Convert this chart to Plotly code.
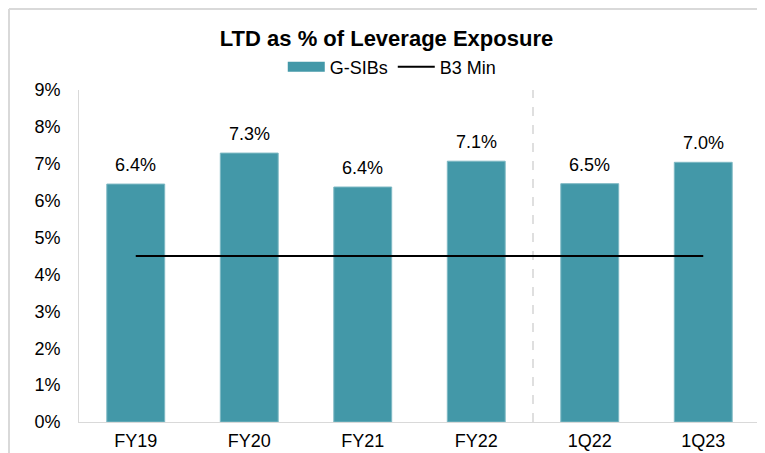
import plotly.graph_objects as go

categories = ["FY19", "FY20", "FY21", "FY22", "1Q22", "1Q23"]
gsib_values = [6.45, 7.29, 6.37, 7.07, 6.46, 7.04]
gsib_labels = ["6.4%", "7.3%", "6.4%", "7.1%", "6.5%", "7.0%"]
b3_min = [4.5, 4.5, 4.5, 4.5, 4.5, 4.5]
y_ticks = [0, 1, 2, 3, 4, 5, 6, 7, 8, 9]
y_tick_labels = [f"{v}%" for v in y_ticks]

font = "Liberation Sans, Arial, sans-serif"
teal = "#4398A8"

# page body has an 8px margin, so the figure is a bit smaller than the window
W, H = 757, 445
ml, mr, mt, mb = 71, 5, 82, 31
pw, ph = W - ml - mr, H - mt - mb

fig = go.Figure()

# bars
fig.add_trace(go.Bar(
    x=categories, y=gsib_values, name="G-SIBs", showlegend=False,
    marker=dict(color=teal, line=dict(color="#7DB8C3", width=1)),
    width=0.51,
))
# legend swatch for the bars (wide rectangle like Excel)
fig.add_trace(go.Scatter(
    x=[None], y=[None], name="G-SIBs", mode="lines",
    line=dict(color=teal, width=10),
))

# Basel III minimum line
fig.add_trace(go.Scatter(
    x=categories, y=b3_min, name="B3 Min", mode="lines",
    line=dict(color="#000000", width=2),
))

# data labels above bars
for c, v, t in zip(categories, gsib_values, gsib_labels):
    fig.add_annotation(x=c, y=v, text=t, showarrow=False, yanchor="bottom",
                       yshift=7, font=dict(family=font, size=18, color="#000000"))

# divider between annual and quarterly
fig.add_shape(type="line", xref="x", yref="y", x0=3.5, x1=3.5, y0=0, y1=9,
              line=dict(color="#BFBFBF", width=1, dash="dash"), layer="below")

# chart frame
fx0 = (1 - ml) / pw
fy1 = (ph + mt - 1) / ph
fy0 = -mb / ph
fig.add_shape(type="line", xref="paper", yref="paper", x0=fx0, x1=1.0, y0=fy1, y1=fy1,
              line=dict(color="#D9D9D9", width=2))
fig.add_shape(type="line", xref="paper", yref="paper", x0=fx0, x1=fx0, y0=fy0, y1=fy1,
              line=dict(color="#D9D9D9", width=2))
fig.add_shape(type="line", xref="paper", yref="paper", x0=1.0, x1=1.0, y0=fy0, y1=fy1,
              line=dict(color="#D9D9D9", width=2))

fig.update_layout(
    width=W, height=H,
    margin=dict(l=ml, r=mr, t=mt, b=mb, autoexpand=False),
    paper_bgcolor="white", plot_bgcolor="white",
    font=dict(family=font, size=18, color="#000000"),
    title=dict(text="<b>LTD as % of Leverage Exposure</b>", x=0.5, xanchor="center",
               y=1 - 30 / H, yanchor="middle", font=dict(size=22, family=font)),
    legend=dict(orientation="h", x=0.46, xanchor="center", y=1 + (mt - 59) / ph,
                yanchor="middle", font=dict(size=18), itemwidth=37,
                traceorder="normal", bgcolor="rgba(0,0,0,0)"),
    showlegend=True,
    bargap=0.49,
)

fig.update_xaxes(showline=True, linecolor="#D9D9D9", linewidth=1, showgrid=False,
                 ticks="", tickfont=dict(size=18), range=[-0.5, 5.5],
                 ticklabelstandoff=2)
fig.update_yaxes(range=[0, 9], tickvals=y_ticks, ticktext=y_tick_labels, showgrid=False,
                 showline=True, linecolor="#D9D9D9", linewidth=1, ticks="",
                 tickfont=dict(size=18), zeroline=False, ticklabelstandoff=14)

fig.write_html("out.html")
